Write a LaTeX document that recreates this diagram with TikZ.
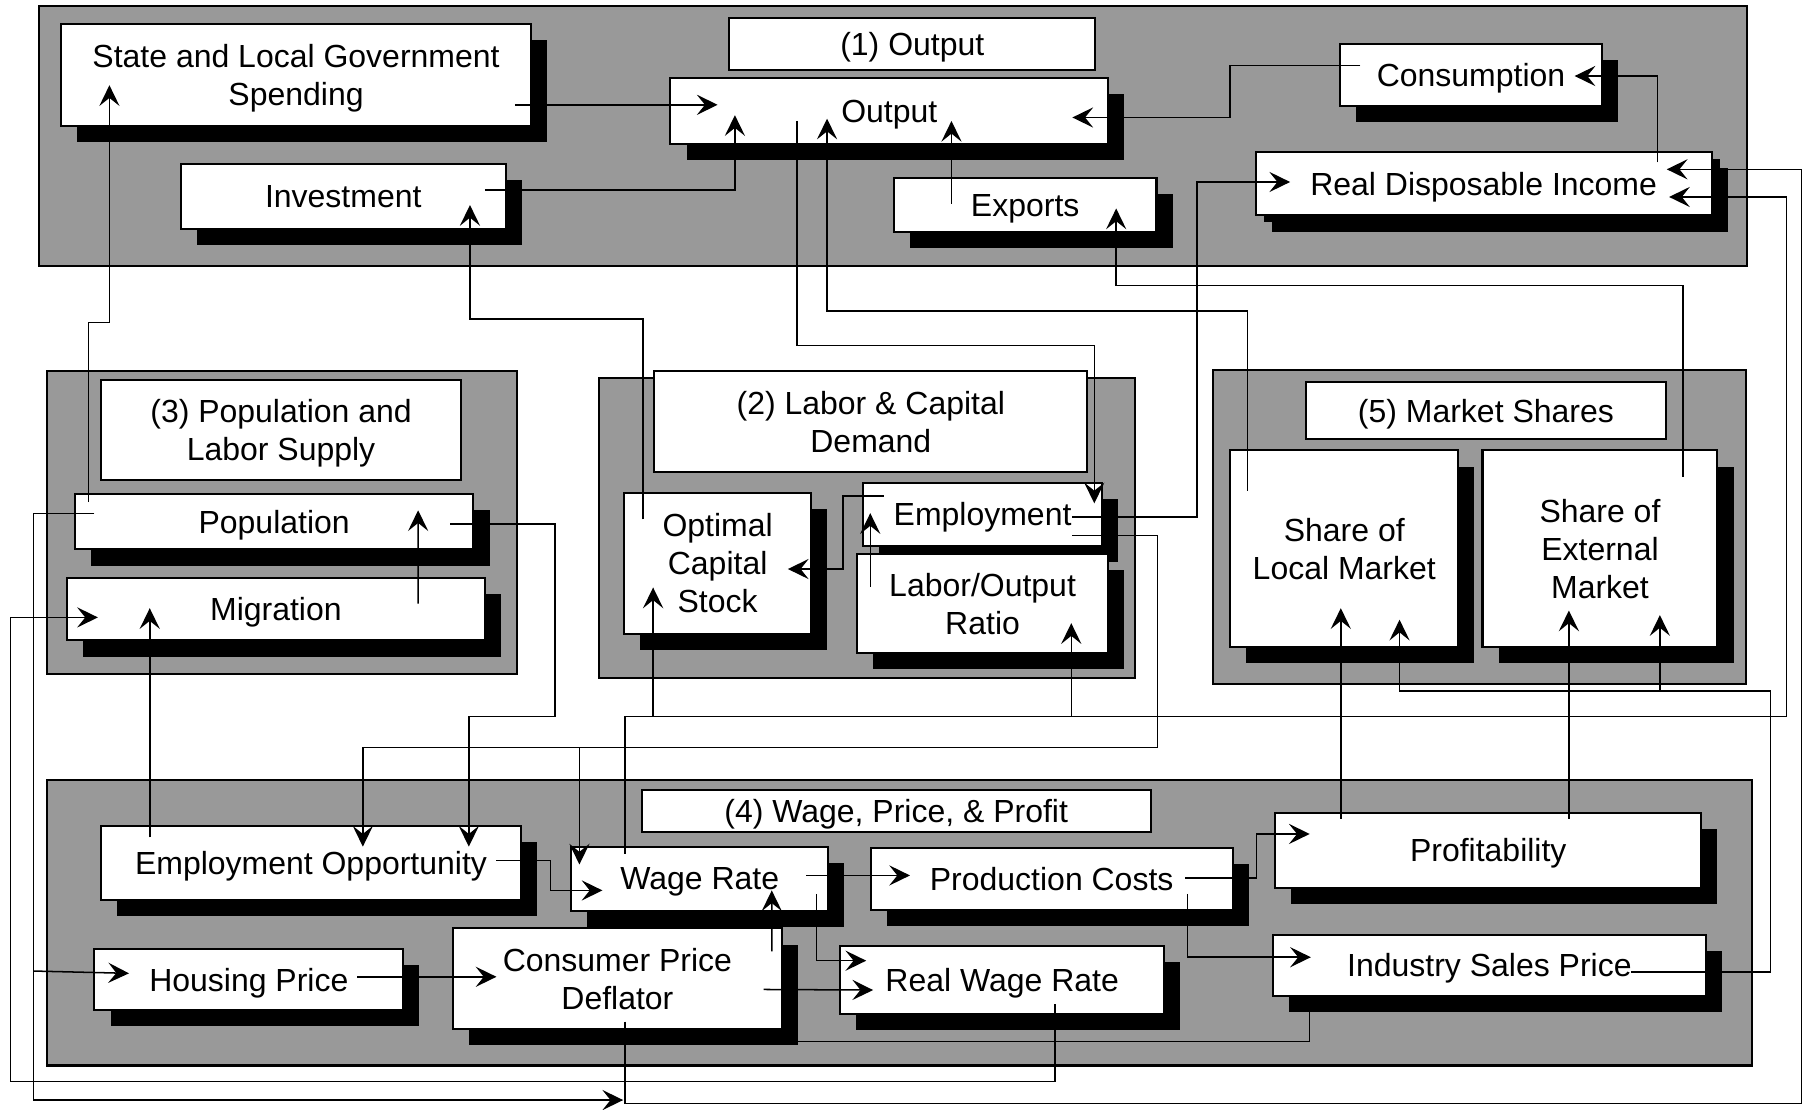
\documentclass[tikz,border=0pt]{standalone}
\usepackage{fontspec}
\setmainfont{Liberation Sans}
\usetikzlibrary{arrows.meta,calc,shadows}
\pgfdeclarelayer{bg}
\pgfdeclarelayer{mid}
\pgfsetlayers{bg,mid,main}
\definecolor{panelgray}{gray}{0.6}
\begin{document}
\begin{tikzpicture}[x=0.2mm,y=-0.2mm,
    font=\fontsize{15.8}{18.8}\selectfont,
    panel/.style={draw,line width=1pt,fill=panelgray},
    title/.style={draw,line width=1pt,fill=white,inner sep=0pt,align=center,text depth=0pt},
    box/.style={title,drop shadow={shadow xshift=2.8mm,shadow yshift=-2.8mm,fill=black,opacity=1}},
    sz/.style 2 args={minimum width=#1*0.2mm,minimum height=#2*0.2mm},
    link/.style={line width=0.75pt},
    arr/.style={link,-{Stealth[length=3.6mm,width=3.5mm,inset=1.4mm]}}]
\useasboundingbox (0,0) rectangle (1567,963);
\begin{pgfonlayer}{bg}
\draw[panel] (34,5) rectangle (1516.5,231);
\draw[panel] (41,322) rectangle (449,585);
\draw[panel] (520,328) rectangle (985,589);
\draw[panel] (1053,321) rectangle (1516,594);
\draw[panel] (41,677) rectangle (1521,925);
\end{pgfonlayer}
\node[title,sz={318}{45}] (t1) at (792,38) {(1) Output};
\node[title,sz={312}{87}] (t3) at (244,373) {(3) Population and\\Labor Supply};
\node[title,sz={376}{87}] (t2) at (756,366) {(2) Labor \& Capital\\Demand};
\node[title,sz={312}{50}] (t5) at (1290,356.5) {(5) Market Shares};
\node[title,sz={442}{36}] (t4) at (778,704) {(4) Wage, Price, \& Profit};
\node[box,sz={408}{88}] (slg) at (257,65) {State and Local Government\\Spending};
\node[box,sz={380}{57}] (out) at (772,96.5) {Output};
\node[box,sz={228}{54}] (cons) at (1277,65) {Consumption};
\node[box,sz={282}{57}] (inv) at (298,170.5) {Investment};
\node[box,sz={228}{47}] (exp) at (890,178) {Exports};
\node[box,sz={396}{55},drop shadow={shadow xshift=1.4mm,shadow yshift=-1.2mm,fill=black,opacity=1}] (rdi) at (1288,159.5) {Real Disposable Income};
\node[box,sz={346}{48}] (pop) at (238,453) {Population};
\node[box,sz={363}{54}] (mig) at (239.5,529) {Migration};
\node[box,sz={162}{122}] (ocs) at (623,489) {Optimal\\Capital\\Stock};
\node[box,sz={208}{55}] (emp) at (853,446.5) {Employment};
\node[box,sz={218}{86}] (lor) at (853,524) {Labor/Output\\Ratio};
\node[box,sz={198}{171}] (sloc) at (1167,476.5) {Share of\\Local Market};
\node[box,sz={204}{171}] (sext) at (1389,476.5) {Share of\\External\\Market};
\node[box,sz={364}{64}] (eo) at (270,749) {Employment Opportunity};
\node[box,sz={223}{56}] (wr) at (607.5,763) {Wage Rate};
\node[box,sz={314}{54}] (pc) at (913,763) {Production Costs};
\node[box,sz={370}{65}] (prof) at (1292,738) {Profitability};
\node[box,sz={268}{53}] (hp) at (216,850.5) {Housing Price};
\node[box,sz={286}{87}] (cpd) at (536,849.5) {Consumer Price\\Deflator};
\node[box,sz={281}{59}] (rwr) at (870,851) {Real Wage Rate};
\node[box,sz={376}{53}] (isp) at (1293,838) {Industry Sales Price};
\draw[arr] ($(slg)+(190,26)$) -- ($(out)+(-149,-5.5)$);
\draw[arr] ($(inv)+(123,-5.5)$) -| ($(out)+(-134,3.5)$);
\draw[arr] ($(cons)+(-96,-8)$) -- ++(-113,0) |- ($(out)+(159,5.5)$);
\draw[arr] ($(exp)+(-64,-1)$) -- ($(out)+(54,8.5)$);
\draw[arr] ($(rdi)+(151,-18.5)$) |- ($(cons)+(90,1)$);
\draw[arr] ($(pop)+(-161,-17)$) -- ++(0,-156) -| ($(slg)+(-162,9)$);
\draw[arr] ($(ocs)+(-65,-38)$) -- ++(0,-174) -| ($(inv)+(110,7.5)$);
\draw[arr] ($(out)+(-80,8.5)$) -- ++(0,195) -| ($(emp)+(97,-9.5)$);
\draw[arr] ($(sloc)+(-84,-50.5)$) -- ++(0,-156) -| ($(out)+(-54,6.5)$);
\draw[arr] ($(sext)+(72,-62.5)$) -- ++(0,-166) -| ($(exp)+(79,3)$);
\draw[arr] ($(emp)+(78,2.5)$) -- ++(108,0) |- ($(rdi)+(-168,-1.5)$);
\draw[arr] ($(emp)+(78,18.5)$) -- ++(74,0) -- ++(0,184) -| ($(eo)+(45,-14)$);
\draw[arr] (503,649) -- ($(wr)+(-104.5,-12.5)$);
\draw[arr] ($(emp)+(-86,-16)$) -- ++(-35,0) |- ($(ocs)+(61,5)$);
\draw[arr] ($(lor)+(-97.5,-14.5)$) -- ($(emp)+(-97.5,-1)$);
\draw[arr] ($(wr)+(-65,-22)$) |- (1551,622) |- ($(rdi)+(161,11.5)$);
\draw[arr] (567,622) -- ($(ocs)+(-56,21)$);
\draw[arr] (930,622) -- ($(lor)+(77,17)$);
\draw[arr] ($(cpd)+(6.5,37.5)$) |- (1564,958) |- ($(rdi)+(159,-12.5)$);
\draw[arr] ($(pop)+(-156,-7)$) -- ++(-53,0) |- ($(cpd)+(5,105.5)$);
\draw[arr] (29,843) -- ($(hp)+(-104,-5.5)$);
\draw[arr] ($(rwr)+(46,21)$) |- (9,939) |- ($(mig)+(-154.5,7)$);
\draw[arr] ($(eo)+(-140,-22)$) -- ($(mig)+(-109.5,-1)$);
\draw[arr] ($(mig)+(123.5,-5)$) -- ($(pop)+(125,-10)$);
\draw[arr] ($(pop)+(153,2)$) -- ++(91,0) -- ++(0,167) -| ($(eo)+(137,-14)$);
\draw[arr] ($(eo)+(161,-2)$) -- ++(47,0) |- ($(wr)+(-84.5,10)$);
\draw[arr] ($(hp)+(94,-2.5)$) -- ($(cpd)+(-105,-1.5)$);
\draw[arr] ($(wr)+(92.5,-3)$) -- ($(pc)+(-123,-3)$);
\draw[arr] ($(wr)+(101.5,13)$) |- ($(rwr)+(-118,-17)$);
\draw[arr] ($(cpd)+(134,-23.5)$) -- ($(wr)+(62.5,10)$);
\draw[arr] ($(cpd)+(127,9.5)$) -- ($(rwr)+(-112,8.5)$);
\draw[arr] ($(pc)+(116,-1)$) -- ++(62,0) |- ($(prof)+(-155,-14)$);
\draw[arr] ($(pc)+(118,13)$) |- ($(isp)+(-155,-7)$);
\draw[arr] ($(prof)+(-128,-27)$) -- ($(sloc)+(-3,51.5)$);
\draw[arr] ($(prof)+(70,-27)$) -- ($(sext)+(-27,53.5)$);
\draw[arr] ($(isp)+(123,6)$) -- ++(121,0) -- ++(0,-244) -| ($(sloc)+(48,61.5)$);
\draw[arr] (1441,600) -- ($(sext)+(52,57.5)$);
\begin{pgfonlayer}{mid}
\draw[arr] ($(isp)+(-156,6)$) -- ++(0,60) -| ($(cpd)+(97,2.5)$);
\end{pgfonlayer}
\end{tikzpicture}
\end{document}
